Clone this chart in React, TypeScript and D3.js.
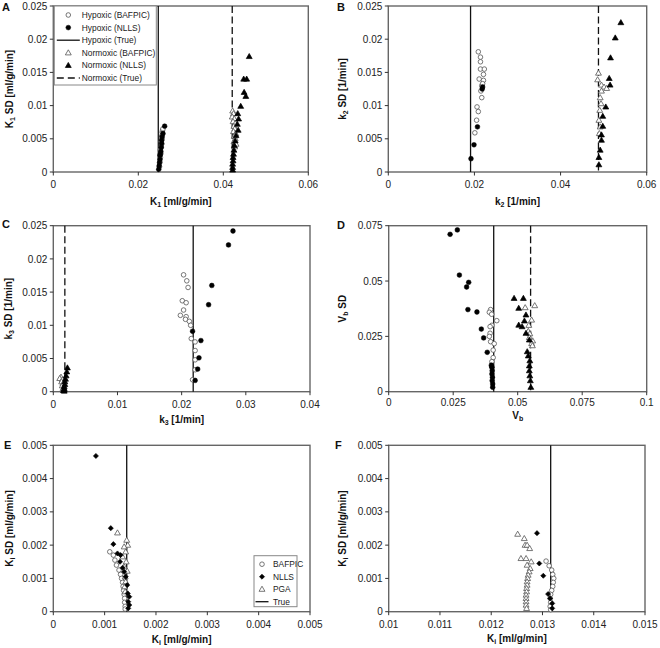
import React from 'react';
import * as d3 from 'd3';

type Pt = [number, number];

// ---------- Panel A: K1 ----------
const aHypBafpic: Pt[] = [[0.0250,0.0008],[0.0251,0.0015],[0.0252,0.0022],[0.0253,0.0028],[0.0252,0.0033],[0.0254,0.0038],[0.0255,0.0042],[0.0254,0.0046],[0.0256,0.0050],[0.0255,0.0054],[0.0257,0.0057],[0.0256,0.0060],[0.0257,0.0063],[0.0258,0.0065]];
const aHypNlls: Pt[] = [[0.0248,0.0004],[0.0249,0.0009],[0.0250,0.0014],[0.0251,0.0019],[0.0251,0.0025],[0.0252,0.0027],[0.0253,0.0031],[0.0254,0.0037],[0.0255,0.0043],[0.0255,0.0048],[0.0256,0.0053],[0.0258,0.0058],[0.0262,0.0069]];
const aNorBafpic: Pt[] = [[0.0422,0.0092],[0.0424,0.0088],[0.0421,0.0083],[0.0426,0.0080],[0.0423,0.0076],[0.0428,0.0073],[0.0425,0.0069],[0.0427,0.0065],[0.0424,0.0061],[0.0429,0.0058],[0.0426,0.0054],[0.0428,0.0050],[0.0425,0.0046],[0.0430,0.0042],[0.0427,0.0038]];
const aNorNlls: Pt[] = [[0.0461,0.0174],[0.0448,0.0140],[0.0455,0.0140],[0.0449,0.0120],[0.0453,0.0114],[0.0441,0.0099],[0.0434,0.0088],[0.0436,0.0080],[0.0433,0.0072],[0.0435,0.0063],[0.0430,0.0055],[0.0428,0.0047],[0.0426,0.0040],[0.0425,0.0033],[0.0424,0.0027],[0.0423,0.0022],[0.0423,0.0017],[0.0422,0.0012],[0.0422,0.0007],[0.0422,0.0003]];
const aTrue = [0.0247, 0.0421];

// ---------- Panel B: k2 ----------
const bHypBafpic: Pt[] = [[0.0209,0.0181],[0.0214,0.0173],[0.0214,0.0166],[0.0214,0.0155],[0.0223,0.0155],[0.0221,0.0147],[0.0211,0.0140],[0.0221,0.0138],[0.0217,0.0130],[0.0219,0.0133],[0.0215,0.0122],[0.0217,0.0112],[0.0206,0.0098],[0.0209,0.0091],[0.0205,0.0078],[0.0201,0.0059]];
const bHypNlls: Pt[] = [[0.0192,0.0020],[0.0199,0.0041],[0.0207,0.0068],[0.0218,0.0125],[0.0219,0.0128]];
const bNorBafpic: Pt[] = [[0.0488,0.0149],[0.0486,0.0139],[0.0495,0.0131],[0.0501,0.0128],[0.0507,0.0126],[0.0495,0.0122],[0.0492,0.0112],[0.0494,0.0103],[0.0491,0.0093],[0.0489,0.0078],[0.0492,0.0068],[0.0490,0.0058]];
const bNorNlls: Pt[] = [[0.0540,0.0225],[0.0527,0.0202],[0.0516,0.0172],[0.0513,0.0141],[0.0515,0.0131],[0.0505,0.0098],[0.0498,0.0084],[0.0498,0.0069],[0.0495,0.0056],[0.0495,0.0048],[0.0492,0.0033],[0.0489,0.0022],[0.0489,0.0011]];
const bTrue = [0.0191, 0.0488];

// ---------- Panel C: k3 ----------
const cHypBafpic: Pt[] = [[0.0203,0.0176],[0.0208,0.0167],[0.0210,0.0157],[0.0201,0.0137],[0.0207,0.0134],[0.0203,0.0123],[0.0198,0.0115],[0.0207,0.0113],[0.0206,0.0109],[0.0212,0.0106],[0.0214,0.0100],[0.0215,0.0080],[0.0221,0.0075],[0.0221,0.0062],[0.0221,0.0048],[0.0221,0.0033],[0.0217,0.0018]];
const cHypNlls: Pt[] = [[0.0280,0.0242],[0.0273,0.0221],[0.0247,0.0160],[0.0242,0.0131],[0.0217,0.0091],[0.0230,0.0077],[0.0227,0.0051],[0.0225,0.0034],[0.0221,0.0017]];
const cNorBafpic: Pt[] = [[0.0012,0.0022],[0.0010,0.0020],[0.0014,0.0018],[0.0013,0.0015],[0.0015,0.0012],[0.0014,0.0009],[0.0016,0.0006],[0.0015,0.0004],[0.0016,0.0002]];
const cNorNlls: Pt[] = [[0.0022,0.0036],[0.0021,0.0030],[0.0020,0.0024],[0.0019,0.0019],[0.0018,0.0015],[0.0018,0.0011],[0.0017,0.0008],[0.0017,0.0005],[0.0017,0.0003],[0.0017,0.0001],[0.0016,0.0002]];
const cTrue = [0.0218, 0.0018];

// ---------- Panel D: Vb ----------
const dHypBafpic: Pt[] = [[0.0395,0.0371],[0.0390,0.0359],[0.0399,0.0350],[0.0419,0.0321],[0.0400,0.0300],[0.0393,0.0294],[0.0393,0.0264],[0.0390,0.0250],[0.0395,0.0226],[0.0409,0.0217],[0.0405,0.0188],[0.0405,0.0154],[0.0400,0.0136],[0.0399,0.0113]];
const dHypNlls: Pt[] = [[0.0238,0.0711],[0.0266,0.0731],[0.0274,0.0527],[0.0310,0.0494],[0.0302,0.0473],[0.0307,0.0371],[0.0342,0.0360],[0.0359,0.0283],[0.0368,0.0243],[0.0382,0.0178],[0.0398,0.0120],[0.0400,0.0110],[0.0401,0.0095],[0.0400,0.0080],[0.0402,0.0065],[0.0401,0.0050],[0.0403,0.0035],[0.0403,0.0020]];
const dNorBafpic: Pt[] = [[0.0566,0.0389],[0.0529,0.0380],[0.0554,0.0324],[0.0543,0.0300],[0.0541,0.0273],[0.0547,0.0262],[0.0558,0.0230],[0.0554,0.0218],[0.0557,0.0208],[0.0545,0.0245]];
const dNorNlls: Pt[] = [[0.0486,0.0422],[0.0522,0.0422],[0.0504,0.0377],[0.0532,0.0347],[0.0526,0.0320],[0.0504,0.0301],[0.0517,0.0294],[0.0532,0.0264],[0.0545,0.0234],[0.0537,0.0181],[0.0541,0.0162],[0.0547,0.0140],[0.0545,0.0117],[0.0545,0.0095],[0.0547,0.0072],[0.0549,0.0050],[0.0551,0.0020]];
const dTrue = [0.0407, 0.0550];

// ---------- Panel E: Ki (hypoxic) ----------
const eBafpic: Pt[] = [[0.00110,0.00180],[0.00117,0.00170],[0.00120,0.00155],[0.00123,0.00140],[0.00128,0.00125],[0.00131,0.00112],[0.00133,0.00100],[0.00135,0.00088],[0.00136,0.00076],[0.00137,0.00064],[0.00138,0.00052],[0.00139,0.00040],[0.00139,0.00028],[0.00140,0.00016],[0.00140,0.00008]];
const eNlls: Pt[] = [[0.00083,0.00468],[0.00112,0.00251],[0.00117,0.00203],[0.00125,0.00175],[0.00131,0.00170],[0.00130,0.00150],[0.00135,0.00132],[0.00138,0.00120],[0.00141,0.00105],[0.00144,0.00080],[0.00145,0.00055],[0.00148,0.00045],[0.00146,0.00030],[0.00148,0.00020],[0.00146,0.00010]];
const ePga: Pt[] = [[0.00125,0.00237],[0.00143,0.00215],[0.00145,0.00200],[0.00138,0.00195],[0.00141,0.00180],[0.00135,0.00165],[0.00142,0.00150],[0.00138,0.00135],[0.00144,0.00122],[0.00140,0.00105],[0.00141,0.00090],[0.00139,0.00075],[0.00140,0.00060]];
const eTrue = [0.00143];

// ---------- Panel F: Ki (normoxic) ----------
const fBafpic: Pt[] = [[0.01307,0.00152],[0.01313,0.00138],[0.01318,0.00125],[0.01320,0.00112],[0.01322,0.00100],[0.01321,0.00088],[0.01320,0.00076],[0.01318,0.00064],[0.01316,0.00052],[0.01315,0.00040],[0.01316,0.00028],[0.01315,0.00016],[0.01316,0.00006]];
const fNlls: Pt[] = [[0.012893,0.00236],[0.012938,0.00145],[0.013016,0.00108],[0.01311,0.00053],[0.01315,0.00040],[0.01319,0.00025],[0.01319,0.00010]];
const fPga: Pt[] = [[0.012516,0.00233],[0.012645,0.00220],[0.01266,0.00200],[0.01270,0.00200],[0.01275,0.00190],[0.01258,0.00160],[0.01268,0.00160],[0.01270,0.00140],[0.01278,0.00150],[0.01276,0.00130],[0.01274,0.00120],[0.01272,0.00110],[0.01271,0.00100],[0.01270,0.00090],[0.01270,0.00080],[0.01269,0.00070],[0.01269,0.00060],[0.01268,0.00050],[0.01268,0.00040],[0.01268,0.00030],[0.01268,0.00020],[0.01269,0.00010]];
const fTrue = [0.01316];

// ---------- Ticks ----------
const ticksA_x = [0, 0.02, 0.04, 0.06];
const ticksA_y = [0, 0.005, 0.01, 0.015, 0.02, 0.025];
const ticksC_x = [0, 0.01, 0.02, 0.03, 0.04];
const ticksD_x = [0, 0.025, 0.05, 0.075, 0.1];
const ticksD_y = [0, 0.025, 0.05, 0.075];
const ticksE_x = [0, 0.001, 0.002, 0.003, 0.004, 0.005];
const ticksE_y = [0, 0.001, 0.002, 0.003, 0.004, 0.005];
const ticksF_x = [0.01, 0.011, 0.012, 0.013, 0.014, 0.015];

const FONT = 'Liberation Sans, Arial, sans-serif';

type Mk = 'circleOpen' | 'circleFilled' | 'triOpen' | 'triFilled' | 'diamond';
type Series = { data: Pt[]; mk: Mk };
type TitlePart = { t: string; sub?: boolean };

const triPath = d3.symbol().type(d3.symbolTriangle).size(15)() as string;
const diaPath = d3.symbol().type(d3.symbolSquare).size(13)() as string;

function Marker({ mk, x, y }: { mk: Mk; x: number; y: number }) {
  switch (mk) {
    case 'circleOpen':
      return <circle cx={x} cy={y} r={2.3} fill="#fff" stroke="#555" strokeWidth={0.8} />;
    case 'circleFilled':
      return <circle cx={x} cy={y} r={2.4} fill="#000" stroke="#000" strokeWidth={0.5} />;
    case 'triOpen':
      return <path d={triPath} transform={`translate(${x},${y + 0.4})`} fill="#fff" stroke="#555" strokeWidth={0.8} />;
    case 'triFilled':
      return <path d={triPath} transform={`translate(${x},${y + 0.4})`} fill="#000" stroke="#000" strokeWidth={0.7} />;
    case 'diamond':
      return <path d={diaPath} transform={`translate(${x},${y}) rotate(45)`} fill="#000" stroke="#000" strokeWidth={0.6} />;
  }
}

function Title({ parts, x, y, rotate }: { parts: TitlePart[]; x: number; y: number; rotate?: boolean }) {
  return (
    <text
      x={x}
      y={y}
      transform={rotate ? `rotate(-90,${x},${y})` : undefined}
      textAnchor="middle"
      fontFamily={FONT}
      fontWeight="bold"
      fontSize={10}
      fill="#111"
    >
      {parts.map((p, i) =>
        p.sub ? (
          <tspan key={i} fontSize={7} dy={2}>{p.t}</tspan>
        ) : (
          <tspan key={i} dy={i > 0 && parts[i - 1].sub ? -2 : 0}>{p.t}</tspan>
        )
      )}
    </text>
  );
}

type Legend = { kind: 'A' | 'E' };

type PanelProps = {
  letter: string;
  box: { l: number; r: number; t: number; b: number };
  xDomain: [number, number];
  yDomain: [number, number];
  xTicks: number[];
  yTicks: number[];
  series: Series[];
  solid: number[];
  dashed: number[];
  xTitle: TitlePart[];
  yTitle: TitlePart[];
  xTitleY: number;
  yTitleX: number;
  letterPos: [number, number];
  legend?: Legend;
  tickDy?: number;
};

function Panel(p: PanelProps) {
  const { box } = p;
  const x = d3.scaleLinear().domain(p.xDomain).range([box.l, box.r]);
  const y = d3.scaleLinear().domain(p.yDomain).range([box.b, box.t]);
  const tdy = p.tickDy ?? 16;
  return (
    <g>
      <rect x={box.l} y={box.t} width={box.r - box.l} height={box.b - box.t} fill="#fff" stroke="#666" strokeWidth={1.4} />
      {p.xTicks.map((t) => (
        <g key={'x' + t}>
          <line x1={x(t)} x2={x(t)} y1={box.b} y2={box.b + 3.5} stroke="#333" strokeWidth={1} />
          <text x={x(t)} y={box.b + tdy} textAnchor="middle" fontFamily={FONT} fontSize={10} fill="#222">{String(t)}</text>
        </g>
      ))}
      {p.yTicks.map((t) => (
        <g key={'y' + t}>
          <line x1={box.l - 3.5} x2={box.l} y1={y(t)} y2={y(t)} stroke="#333" strokeWidth={1} />
          <text x={box.l - 6} y={y(t) + 3.6} textAnchor="end" fontFamily={FONT} fontSize={10} fill="#222">{String(t)}</text>
        </g>
      ))}
      {p.solid.map((v, i) => (
        <line key={'s' + i} x1={x(v)} x2={x(v)} y1={box.t} y2={box.b} stroke="#111" strokeWidth={1.3} />
      ))}
      {p.dashed.map((v, i) => (
        <line key={'d' + i} x1={x(v)} x2={x(v)} y1={box.t} y2={box.b} stroke="#111" strokeWidth={1.3} strokeDasharray="7,3.5" />
      ))}
      {p.series.map((s, si) => (
        <g key={'ser' + si}>
          {s.data.map((d, i) => (
            <Marker key={i} mk={s.mk} x={x(d[0])} y={y(d[1])} />
          ))}
        </g>
      ))}
      <Title parts={p.xTitle} x={(box.l + box.r) / 2} y={p.xTitleY} />
      <Title parts={p.yTitle} x={p.yTitleX} y={(box.t + box.b) / 2} rotate />
      <text x={p.letterPos[0]} y={p.letterPos[1]} fontFamily={FONT} fontWeight="bold" fontSize={11} fill="#111">{p.letter}</text>
      {p.legend && p.legend.kind === 'A' && <LegendA l={box.l} t={box.t} />}
      {p.legend && p.legend.kind === 'E' && <LegendE r={box.r} b={box.b} />}
    </g>
  );
}

const legendANames = ['Hypoxic (BAFPIC)', 'Hypoxic (NLLS)', 'Hypoxic (True)', 'Normoxic (BAFPIC)', 'Normoxic (NLLS)', 'Normoxic (True)'];
const legendAKinds: (Mk | 'solid' | 'dashed')[] = ['circleOpen', 'circleFilled', 'solid', 'triOpen', 'triFilled', 'dashed'];
const legendENames = ['BAFPIC', 'NLLS', 'PGA', 'True'];
const legendEKinds: (Mk | 'solid' | 'dashed')[] = ['circleOpen', 'diamond', 'triOpen', 'solid'];

function LegendSym({ k, cx, cy, half }: { k: Mk | 'solid' | 'dashed'; cx: number; cy: number; half: number }) {
  if (k === 'solid') return <line x1={cx - half} x2={cx + half} y1={cy} y2={cy} stroke="#111" strokeWidth={1.3} />;
  if (k === 'dashed') return <line x1={cx - half} x2={cx + half} y1={cy} y2={cy} stroke="#111" strokeWidth={1.3} strokeDasharray="7,4" />;
  return <Marker mk={k} x={cx} y={cy} />;
}

function LegendA({ l, t }: { l: number; t: number }) {
  const w = 102;
  const h = 79;
  return (
    <g>
      <rect x={l + 1} y={t} width={w} height={h} fill="#fff" stroke="#888" strokeWidth={1} />
      {legendANames.map((n, i) => {
        const cy = t + 9 + i * 12.6;
        return (
          <g key={n}>
            <LegendSym k={legendAKinds[i]} cx={l + 15} cy={cy} half={11.5} />
            <text x={l + 28.5} y={cy + 3} fontFamily={FONT} fontSize={8.4} fill="#222">{n}</text>
          </g>
        );
      })}
    </g>
  );
}

function LegendE({ r, b }: { r: number; b: number }) {
  const w = 43;
  const h = 51;
  const l = r - 56;
  const t = b - 56;
  return (
    <g>
      <rect x={l} y={t} width={w} height={h} fill="#fff" stroke="#888" strokeWidth={1} />
      {legendENames.map((n, i) => {
        const cy = t + 8.5 + i * 12.5;
        return (
          <g key={n}>
            <LegendSym k={legendEKinds[i]} cx={l + 8} cy={cy} half={6.5} />
            <text x={l + 19} y={cy + 3} fontFamily={FONT} fontSize={8.4} fill="#222">{n}</text>
          </g>
        );
      })}
    </g>
  );
}

export default function App() {
  return (
    <svg width={660} height={648} style={{ position: 'absolute', left: 0, top: 0, background: '#fff' }}>
      <rect x={0} y={0} width={660} height={648} fill="#fff" />
      <Panel
        letter="A"
        box={{ l: 53.3, r: 308.3, t: 6, b: 172 }}
        xDomain={[0, 0.06]}
        yDomain={[0, 0.025]}
        xTicks={ticksA_x}
        yTicks={ticksA_y}
        series={[
          { data: aHypBafpic, mk: 'circleOpen' },
          { data: aHypNlls, mk: 'circleFilled' },
          { data: aNorBafpic, mk: 'triOpen' },
          { data: aNorNlls, mk: 'triFilled' },
        ]}
        solid={[aTrue[0]]}
        dashed={[aTrue[1]]}
        xTitle={[{ t: 'K' }, { t: '1', sub: true }, { t: ' [ml/g/min]' }]}
        yTitle={[{ t: 'K' }, { t: '1', sub: true }, { t: ' SD [ml/g/min]' }]}
        xTitleY={205}
        yTitleX={12.5}
        letterPos={[2, 11]}
        legend={{ kind: 'A' }}
      />
      <Panel
        letter="B"
        box={{ l: 388.3, r: 646.7, t: 6, b: 172 }}
        xDomain={[0, 0.06]}
        yDomain={[0, 0.025]}
        xTicks={ticksA_x}
        yTicks={ticksA_y}
        series={[
          { data: bHypBafpic, mk: 'circleOpen' },
          { data: bHypNlls, mk: 'circleFilled' },
          { data: bNorBafpic, mk: 'triOpen' },
          { data: bNorNlls, mk: 'triFilled' },
        ]}
        solid={[bTrue[0]]}
        dashed={[bTrue[1]]}
        xTitle={[{ t: 'k' }, { t: '2', sub: true }, { t: ' [1/min]' }]}
        yTitle={[{ t: 'k' }, { t: '2', sub: true }, { t: ' SD [1/min]' }]}
        xTitleY={205}
        yTitleX={346}
        letterPos={[337, 11]}
      />
      <Panel
        letter="C"
        box={{ l: 53.3, r: 310, t: 225.7, b: 391.7 }}
        xDomain={[0, 0.04]}
        yDomain={[0, 0.025]}
        xTicks={ticksC_x}
        yTicks={ticksA_y}
        series={[
          { data: cHypBafpic, mk: 'circleOpen' },
          { data: cHypNlls, mk: 'circleFilled' },
          { data: cNorBafpic, mk: 'triOpen' },
          { data: cNorNlls, mk: 'triFilled' },
        ]}
        solid={[cTrue[0]]}
        dashed={[cTrue[1]]}
        xTitle={[{ t: 'k' }, { t: '3', sub: true }, { t: ' [1/min]' }]}
        yTitle={[{ t: 'k' }, { t: '3', sub: true }, { t: ' SD [1/min]' }]}
        xTitleY={423}
        yTitleX={12.5}
        letterPos={[2, 228]}
      />
      <Panel
        letter="D"
        box={{ l: 388.7, r: 646.7, t: 225.7, b: 391.7 }}
        xDomain={[0, 0.1]}
        yDomain={[0, 0.075]}
        xTicks={ticksD_x}
        yTicks={ticksD_y}
        series={[
          { data: dHypBafpic, mk: 'circleOpen' },
          { data: dHypNlls, mk: 'circleFilled' },
          { data: dNorBafpic, mk: 'triOpen' },
          { data: dNorNlls, mk: 'triFilled' },
        ]}
        solid={[dTrue[0]]}
        dashed={[dTrue[1]]}
        xTitle={[{ t: 'V' }, { t: 'b', sub: true }]}
        yTitle={[{ t: 'V' }, { t: 'b', sub: true }, { t: ' SD' }]}
        xTitleY={419}
        yTitleX={346}
        letterPos={[337, 229]}
        tickDy={14.5}
      />
      <Panel
        letter="E"
        box={{ l: 53.3, r: 310, t: 445.3, b: 611.7 }}
        xDomain={[0, 0.005]}
        yDomain={[0, 0.005]}
        xTicks={ticksE_x}
        yTicks={ticksE_y}
        series={[
          { data: eBafpic, mk: 'circleOpen' },
          { data: ePga, mk: 'triOpen' },
          { data: eNlls, mk: 'diamond' },
        ]}
        solid={eTrue}
        dashed={[]}
        xTitle={[{ t: 'K' }, { t: 'i', sub: true }, { t: ' [ml/g/min]' }]}
        yTitle={[{ t: 'K' }, { t: 'i', sub: true }, { t: ' SD [ml/g/min]' }]}
        xTitleY={643}
        yTitleX={12.5}
        letterPos={[4, 449]}
        legend={{ kind: 'E' }}
      />
      <Panel
        letter="F"
        box={{ l: 388.7, r: 645, t: 445.3, b: 611.7 }}
        xDomain={[0.01, 0.015]}
        yDomain={[0, 0.005]}
        xTicks={ticksF_x}
        yTicks={ticksE_y}
        series={[
          { data: fBafpic, mk: 'circleOpen' },
          { data: fPga, mk: 'triOpen' },
          { data: fNlls, mk: 'diamond' },
        ]}
        solid={fTrue}
        dashed={[]}
        xTitle={[{ t: 'K' }, { t: 'i', sub: true }, { t: ' [ml/g/min]' }]}
        yTitle={[{ t: 'K' }, { t: 'i', sub: true }, { t: ' SD [ml/g/min]' }]}
        xTitleY={642}
        yTitleX={346}
        letterPos={[335, 449]}
      />
    </svg>
  );
}
